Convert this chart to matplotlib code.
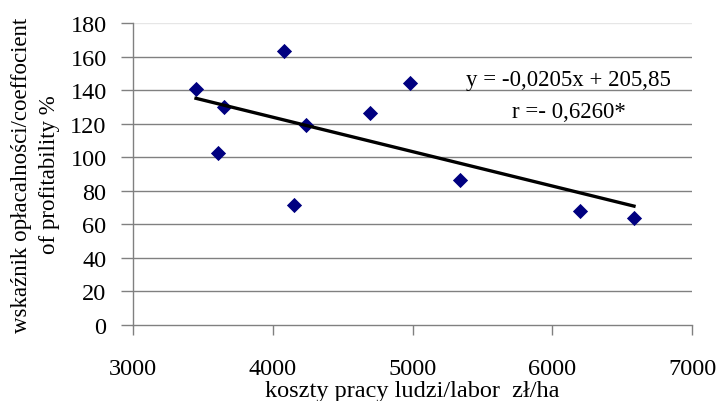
import matplotlib
matplotlib.use("Agg")
import matplotlib.pyplot as plt
import numpy as np

labor_cost = [3451, 3651, 3608, 4080, 4152, 4238, 4696, 4982, 5340, 6199, 6585]
profitability = [140.6, 129.9, 102.5, 163.3, 71.5, 119.2, 126.3, 144.2, 86.4, 67.9, 63.8]
slope, intercept = -0.0205, 205.85
x_ticks = [3000, 4000, 5000, 6000, 7000]
y_ticks = [0, 20, 40, 60, 80, 100, 120, 140, 160, 180]

plt.rcParams['font.family'] = ['Liberation Serif', 'DejaVu Serif']

fig = plt.figure(figsize=(7.16, 4.02), dpi=100)
ax = fig.add_axes([133/716, 1-326/402, (692-133)/716, (326-24)/402])

for yv in y_ticks[1:]:
    ax.axhline(yv, color='#e6e6e6' if yv == 180 else '#808080', lw=1.0, zorder=1)

ax.scatter(labor_cost, profitability, marker='D', s=60, color='#000080', zorder=3, linewidths=0)

xl = np.array([min(labor_cost), max(labor_cost)])
ax.plot(xl, slope*xl + intercept, color='black', lw=2.4, zorder=4)

ax.set_xlim(3000, 7000)
ax.set_ylim(0, 180)
ax.set_xticks(x_ticks)
ax.set_yticks(y_ticks)
ax.tick_params(axis='both', labelsize=17.5, color='#808080', width=1.0)
ax.tick_params(axis='y', length=9, pad=10)
ax.tick_params(axis='x', length=7, pad=16.5)
for s in ['top', 'right']:
    ax.spines[s].set_visible(False)
for s in ['left', 'bottom']:
    ax.spines[s].set_color('#808080')
    ax.spines[s].set_linewidth(1.0)
ax.spines['bottom'].set_zorder(0)

ax.text(3000 + (568-133)/0.13975, (326-80)/1.6778, 'y = -0,0205x + 205,85',
        fontsize=16.5, ha='center', va='center', zorder=5)
ax.text(3000 + (569-133)/0.13975, (326-112)/1.6778, 'r =- 0,6260*',
        fontsize=16.5, ha='center', va='center', zorder=5)

fig.text(412/716, 1-397/402, 'koszty pracy ludzi/labor  zł/ha', fontsize=17.5, ha='center', va='baseline')
fig.text(22/716, 1-175/402, 'wskaźnik opłacalności/coeffocient', fontsize=16.5, rotation=90, ha='center', va='center')
fig.text(50/716, 1-175/402, 'of profitability %', fontsize=16.5, rotation=90, ha='center', va='center')

fig.savefig('out.png', dpi=100)
